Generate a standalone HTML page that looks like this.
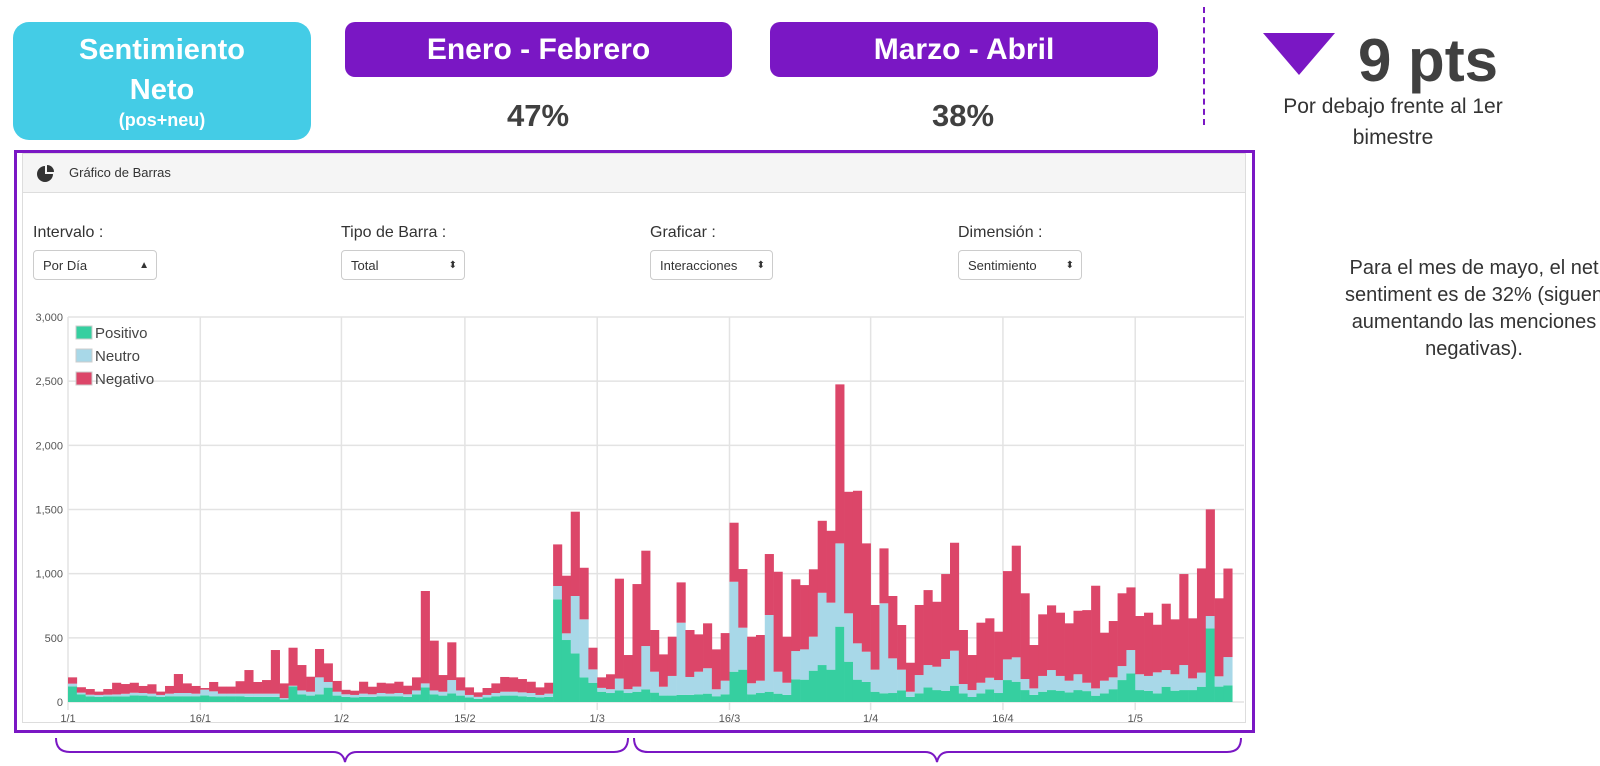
<!DOCTYPE html>
<html><head><meta charset="utf-8">
<style>
body{margin:0;width:1600px;height:766px;background:#fff;position:relative;overflow:hidden;font-family:"Liberation Sans",sans-serif;}
.abs{position:absolute;}
.hbox{position:absolute;color:#fff;font-weight:bold;text-align:center;border-radius:10px;}
.sel{position:absolute;height:30px;border:1px solid #ccc;border-radius:4px;font-size:13px;color:#333;line-height:30px;padding-left:9px;box-sizing:border-box;background:#fff;}
.sel span{position:absolute;right:7px;top:0;font-size:10px;}
.lbl{position:absolute;font-size:16px;color:#333;}
</style></head><body>
<div class="hbox" style="left:13px;top:22px;width:298px;height:118px;background:#44cce6;border-radius:16px;">
<div style="font-size:29px;line-height:40px;margin-top:8px;">Sentimiento<br>Neto</div><div style="font-size:18px;line-height:20px;">(pos+neu)</div></div>
<div class="hbox" style="left:345px;top:22px;width:387px;height:55px;background:#7a17c4;font-size:30px;line-height:55px;">Enero - Febrero</div>
<div class="hbox" style="left:770px;top:22px;width:388px;height:55px;background:#7a17c4;font-size:30px;line-height:55px;">Marzo - Abril</div>
<div class="abs" style="left:438px;top:98px;width:200px;text-align:center;font-size:31px;font-weight:bold;color:#404040;">47%</div>
<div class="abs" style="left:863px;top:98px;width:200px;text-align:center;font-size:31px;font-weight:bold;color:#404040;">38%</div>
<div class="abs" style="left:1203px;top:7px;height:118px;border-left:2px dashed #7a17c4;"></div>
<svg class="abs" style="left:1263px;top:33px" width="72" height="42"><polygon points="0,0 72,0 36,42" fill="#7a17c4"/></svg>
<div class="abs" style="left:1358px;top:26px;font-size:60px;font-weight:bold;color:#404040;">9 pts</div>
<div class="abs" style="left:1260px;top:91px;width:266px;text-align:center;font-size:21px;line-height:31px;color:#333;">Por debajo frente al 1er<br>bimestre</div>
<div class="abs" style="left:1334px;top:255px;width:280px;text-align:center;font-size:20px;line-height:27px;color:#333;">Para el mes de mayo, el net sentiment es de 32% (siguen aumentando las menciones negativas).</div>

<div class="abs" style="left:14px;top:150px;width:1241px;height:583px;border:3px solid #7a17c4;box-sizing:border-box;"></div>
<div class="abs" style="left:22px;top:153px;width:1224px;height:40px;background:#f5f5f5;border:1px solid #ddd;box-sizing:border-box;"></div>
<svg class="abs" style="left:37px;top:165px" width="17" height="17"><path d="M8,9 L8,1 A8,8 0 1,0 16,9 Z" fill="#333"/><path d="M10,0 A7,7 0 0,1 17,7 L10,7Z" fill="#333"/></svg>
<div class="abs" style="left:69px;top:165px;font-size:13px;color:#333;">Gráfico de Barras</div>
<div class="abs" style="left:22px;top:193px;width:1224px;height:530px;border:1px solid #ddd;border-top:none;box-sizing:border-box;"></div>

<div class="lbl" style="left:33px;top:224px;">Intervalo :</div>
<div class="sel" style="left:33px;top:250px;width:124px;">Por Día<span>▲<br></span></div>
<div class="lbl" style="left:341px;top:224px;">Tipo de Barra :</div>
<div class="sel" style="left:341px;top:250px;width:124px;">Total<span>⬍</span></div>
<div class="lbl" style="left:650px;top:224px;">Graficar :</div>
<div class="sel" style="left:650px;top:250px;width:123px;">Interacciones<span>⬍</span></div>
<div class="lbl" style="left:958px;top:224px;">Dimensión :</div>
<div class="sel" style="left:958px;top:250px;width:124px;">Sentimiento<span>⬍</span></div>

<svg id="chart" class="abs" style="left:0;top:0" width="1600" height="766"></svg>
<svg class="abs" style="left:0;top:0" width="1600" height="766">
<path d="M56,738 Q56,752 70,752 L333,752 Q343,752 345,762 Q347,752 357,752 L614,752 Q628,752 628,738" fill="none" stroke="#7a17c4" stroke-width="2"/>
<path d="M634,738 Q634,752 648,752 L925,752 Q935,752 937,762 Q939,752 949,752 L1227,752 Q1241,752 1241,738" fill="none" stroke="#7a17c4" stroke-width="2"/>
</svg>
<script>
const pos=[122,60,44,40,44,44,44,52,50,45,40,45,45,45,45,52,45,45,45,45,40,40,40,40,20,122,60,50,60,112,50,40,35,40,40,45,45,45,40,60,114,60,50,67,50,35,25,35,45,50,50,45,40,35,40,800,483,379,192,150,80,70,90,70,80,99,73,50,50,55,55,60,65,45,60,236,252,60,70,80,65,55,177,174,244,288,252,587,314,174,156,80,68,70,90,40,68,114,93,86,127,67,39,67,99,70,171,158,93,56,80,93,88,75,93,85,49,67,100,171,223,93,86,67,119,88,93,93,119,574,120,130];
const neu=[21,13,13,15,13,15,20,20,20,20,15,20,25,25,20,44,38,20,20,20,25,25,25,25,10,5,30,30,132,44,30,20,20,25,20,25,20,25,20,30,31,30,30,104,40,20,15,20,25,30,30,30,30,20,25,104,52,447,452,104,30,30,93,30,40,337,163,69,153,563,140,176,198,54,106,701,327,86,96,598,171,95,220,236,265,563,522,649,377,283,236,172,701,270,162,40,142,174,182,249,273,73,54,83,90,101,161,190,86,50,123,156,115,91,123,65,57,99,92,109,182,123,117,164,130,128,195,91,110,96,80,220];
const neg=[49,42,44,26,44,91,76,78,55,73,26,60,148,75,60,13,73,55,55,97,184,91,106,340,115,296,198,117,221,145,84,35,33,93,59,80,80,88,67,102,720,388,130,294,102,59,35,54,75,115,112,104,88,59,85,324,449,657,402,169,82,116,778,266,799,743,325,252,306,314,366,291,350,311,371,460,457,363,356,475,779,359,559,501,525,561,560,1239,947,1189,844,504,428,486,348,226,546,584,506,662,841,421,273,468,463,377,688,870,668,338,480,504,493,447,495,566,800,374,439,567,488,454,493,371,517,428,709,468,812,831,608,690];
const yTicks=[0,500,1000,1500,2000,2500,3000];
const yTickLabels=["0","500","1,000","1,500","2,000","2,500","3,000"];
const xTickDays=[0,15,31,45,60,75,91,106,121];
const xTickLabels=["1/1","16/1","1/2","15/2","1/3","16/3","1/4","16/4","1/5"];
const NS="http://www.w3.org/2000/svg";
const svg=document.getElementById('chart');
const X0=68,DAY=8.82,Y0=702,YMAX=3000,YTOP=317,XR=1244;
function xs(d){return X0+d*DAY;}
function ys(v){return Y0-(v/YMAX)*(Y0-YTOP);}
function mk(t,a){const e=document.createElementNS(NS,t);for(const k in a)e.setAttribute(k,a[k]);svg.appendChild(e);return e;}
yTicks.forEach((v,i)=>{
  const l=mk('line',{x1:X0,x2:XR,y1:ys(v),y2:ys(v),stroke:'#e3e3e3','stroke-width':1.5});
  
  
  const t=mk('text',{x:X0-5,y:ys(v)+4,'text-anchor':'end','font-size':11,fill:'#555','font-family':'Liberation Sans, sans-serif'});
  t.textContent=yTickLabels[i];
  
  
});
xTickDays.forEach((d,i)=>{
  const l=mk('line',{x1:xs(d),x2:xs(d),y1:YTOP,y2:Y0+8,stroke:'#e3e3e3','stroke-width':1.5});
  
  
  const t=mk('text',{x:xs(d),y:Y0+20,'text-anchor':'middle','font-size':11,fill:'#555','font-family':'Liberation Sans, sans-serif'});
  t.textContent=xTickLabels[i];
  
  
});
const colors=['#36cfa0','#a8d8e8','#dc4669'];
const series=[pos,neu,neg];
const names=['positivo','neutro','negativo'];
for(let i=0;i<pos.length;i++){
  let base=0;
  series.forEach((s,k)=>{
    const y1=ys(base),y2=ys(base+s[i]);
    const r=mk('rect',{x:xs(i),y:y2,width:DAY+0.3,height:Math.max(0,y1-y2),fill:colors[k]});
    
    
    base+=s[i];
  });
}
const legendNames=['Positivo','Neutro','Negativo'];
legendNames.forEach((n,k)=>{
  const y=326+k*23;
  const r=mk('rect',{x:76,y:y,width:16,height:13,fill:colors[k],stroke:'#ccc'});
  
  
  const t=mk('text',{x:95,y:y+12,'font-size':15,fill:'#444','font-family':'Liberation Sans, sans-serif'});
  t.textContent=n;
  
  
});
</script>
</body></html>
